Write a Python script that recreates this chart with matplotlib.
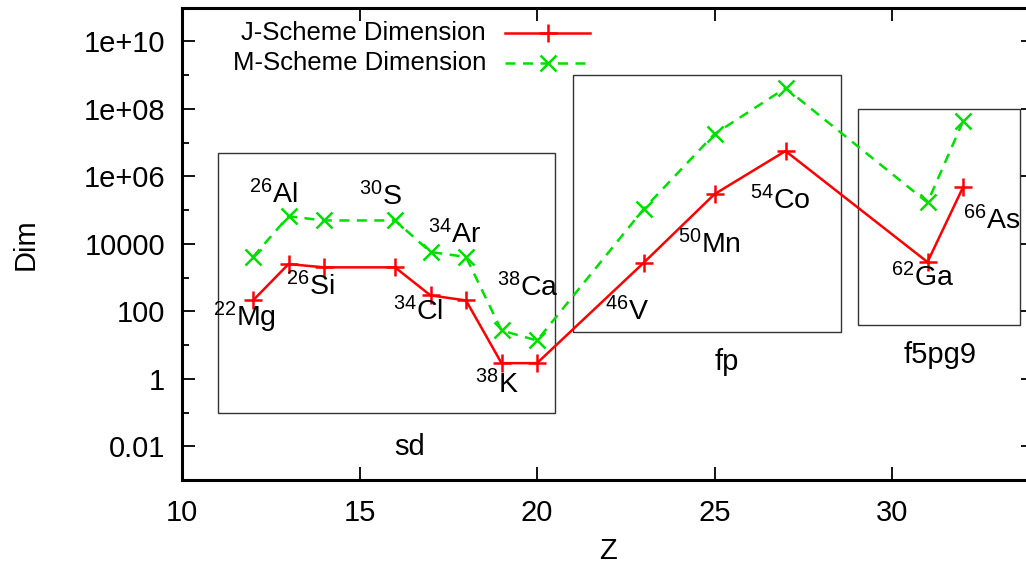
import matplotlib
matplotlib.use("Agg")
import matplotlib.pyplot as plt
from matplotlib.patches import Rectangle
from matplotlib.ticker import FixedLocator, FixedFormatter, NullFormatter

plt.rcParams['font.family'] = ['Liberation Sans', 'DejaVu Sans']
plt.rcParams['mathtext.fontset'] = 'custom'
plt.rcParams['mathtext.rm'] = 'Liberation Sans'
plt.rcParams['mathtext.it'] = 'Liberation Sans'

# ---- data ----
Z = [12, 13, 14, 16, 17, 18, 19, 20, 23, 25, 27, 31, 32]
j_dim = [209, 2500, 2000, 2000, 295, 209, 2.9, 2.9, 2700, 2.95e5, 5.6e6, 2870, 4.7e5]
m_dim = [4070, 6.5e4, 4.9e4, 4.9e4, 5700, 4070, 27, 13.6, 1.05e5, 1.78e7, 4.1e8, 1.67e5, 4.2e7]

nuc_mass = ['22', '26', '26', '30', '34', '34', '38', '38', '46', '50', '54', '62', '66']
nuc_sym = ['Mg', 'Al', 'Si', 'S', 'Cl', 'Ar', 'Ca', 'K', 'V', 'Mn', 'Co', 'Ga', 'As']
nuc_x = [11.75, 12.56, 13.6, 15.58, 16.65, 17.69, 19.75, 18.87, 22.54, 24.86, 26.85, 30.87, 32.82]
nuc_y = [10**1.81, 10**5.46, 10**2.73, 10**5.40, 10**1.99, 10**4.27, 10**2.70, 10**-0.18,
         10**1.99, 10**3.97, 10**5.28, 10**2.98, 10**4.69]

spaces = ['sd', 'fp', 'f5pg9']
box_x0 = [11.0, 21.0, 29.05]
box_x1 = [20.5, 28.55, 33.6]
box_y0 = [0.1, 25, 40]
box_y1 = [5e6, 1e9, 1e8]
space_x = [16.42, 25.35, 31.35]
space_y = [10**-2.02, 10**0.50, 10**0.71]

xticks = [10, 15, 20, 25, 30]
yticks_major = [1e-2, 1, 1e2, 1e4, 1e6, 1e8, 1e10]
ytick_labels = ['0.01', '1', '100', '10000', '1e+06', '1e+08', '1e+10']
yticks_minor = [1e-1, 10, 1e3, 1e5, 1e7, 1e9]

W, H = 1026, 569
fig = plt.figure(figsize=(W / 100, H / 100), dpi=100)
ax = fig.add_axes([182 / W, 1 - 480 / H, (1034 - 182) / W, (480 - 7.5) / H])

red = '#ff0000'
green = '#00e000'

ax.plot(Z, j_dim, color=red, lw=1.8, marker='+', ms=13, mew=1.8)
ax.plot(Z, m_dim, color=green, lw=1.8, ls=(0, (4, 3)), marker='x', ms=11, mew=1.8)

ax.set_yscale('log')
ax.set_xlim(10, 34)
ax.set_ylim(1e-3, 1e11)

for x0, x1, y0, y1 in zip(box_x0, box_x1, box_y0, box_y1):
    ax.add_patch(Rectangle((x0, y0), x1 - x0, y1 - y0, fill=False,
                           edgecolor='#333333', lw=1.0, zorder=1))

fs = 21
for m, s, x, y in zip(nuc_mass, nuc_sym, nuc_x, nuc_y):
    ax.text(x, y, r'$^{%s}$%s' % (m, s), ha='center', va='center', fontsize=20.5)

for s, x, y in zip(spaces, space_x, space_y):
    ax.text(x, y, s, ha='center', va='center', fontsize=fs)

ax.xaxis.set_major_locator(FixedLocator(xticks))
ax.yaxis.set_major_locator(FixedLocator(yticks_major))
ax.yaxis.set_major_formatter(FixedFormatter(ytick_labels))
ax.yaxis.set_minor_locator(FixedLocator(yticks_minor))
ax.yaxis.set_minor_formatter(NullFormatter())
ax.tick_params(axis='both', which='major', direction='in', length=9.5, width=1.3,
               top=True, right=True, labelsize=fs)
ax.tick_params(axis='x', which='major', pad=14)
ax.tick_params(axis='y', which='major', pad=12)
ax.tick_params(axis='y', which='minor', direction='in', length=5, width=1.3,
               left=True, right=True)
ax.tick_params(axis='x', which='minor', bottom=False, top=False)
for sp in ax.spines.values():
    sp.set_linewidth(2.2)

ax.set_xlabel('Z', fontsize=fs, labelpad=7)
ax.set_ylabel('Dim', fontsize=fs, labelpad=32)

# legend (gnuplot style: right-justified text, sample on the right)
leg_fs = 18.5
leg_y = [1 - (33 - 7.5) / 472.5, 1 - (63 - 7.5) / 472.5]
tx = (486 - 182) / 852
lx0 = (505 - 182) / 852
lx1 = (590 - 182) / 852
lxm = (548 - 182) / 852
ax.text(tx, leg_y[0], 'J-Scheme Dimension', transform=ax.transAxes,
        ha='right', va='center', fontsize=leg_fs)
ax.text(tx, leg_y[1], 'M-Scheme Dimension', transform=ax.transAxes,
        ha='right', va='center', fontsize=leg_fs)
ax.plot([lx0, lx1], [leg_y[0]] * 2, transform=ax.transAxes, color=red, lw=1.8)
ax.plot([lxm], [leg_y[0]], transform=ax.transAxes, color=red, marker='+', ms=13, mew=1.8)
ax.plot([lx0, lx1], [leg_y[1]] * 2, transform=ax.transAxes, color=green, lw=1.8, ls=(0, (4, 3)))
ax.plot([lxm], [leg_y[1]], transform=ax.transAxes, color=green, marker='x', ms=11, mew=1.8)

fig.savefig('out.png', dpi=100)
